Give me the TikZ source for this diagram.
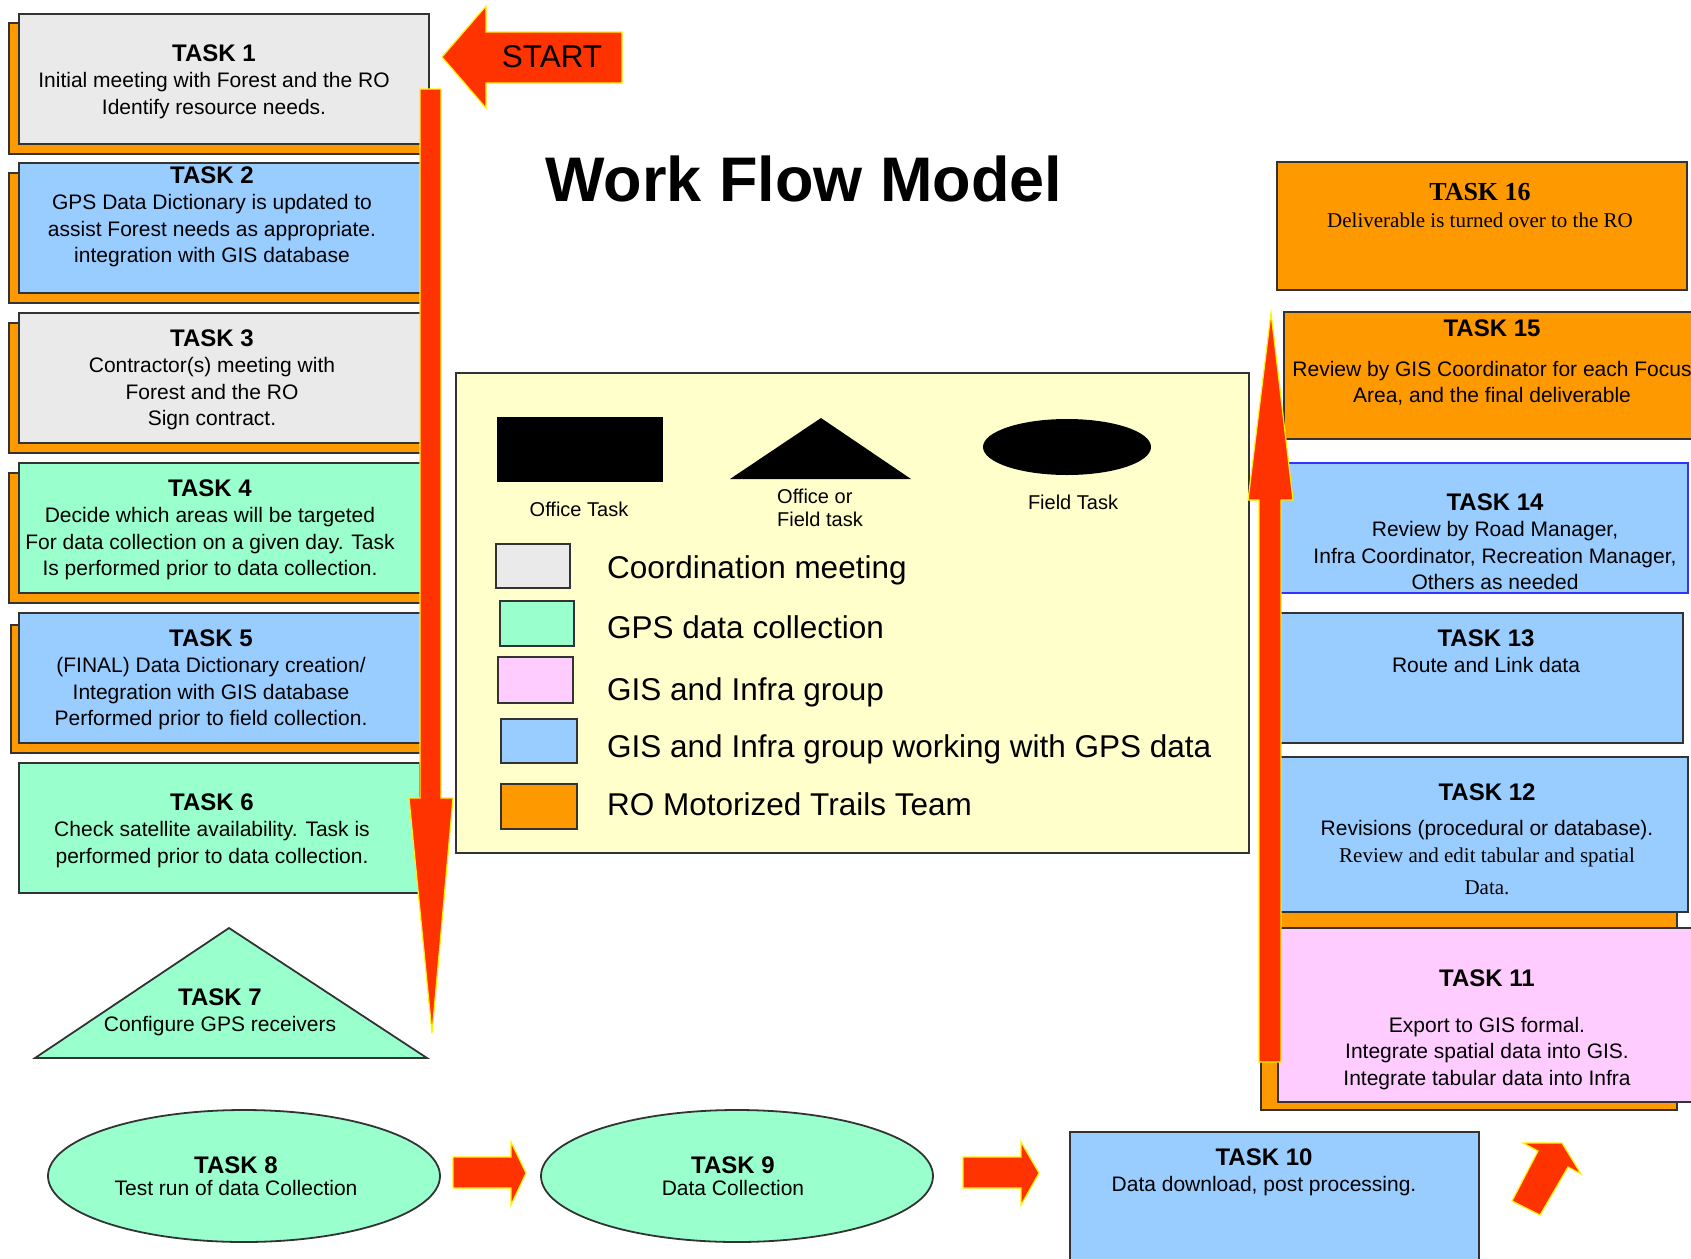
\documentclass[tikz,border=0pt]{standalone}
\usepackage{fontspec}
\setmainfont{Liberation Sans}
\newfontfamily\timesface{Liberation Serif}
\newcommand\taskhead[1]{{\fontsize{24}{26.5}\selectfont\bfseries TASK #1}}
\begin{document}
\begin{tikzpicture}[x=1pt, y=-1pt]
		\definecolor{meetgray}{HTML}{EAEAEA}
		\definecolor{gpsgreen}{HTML}{99FFCC}
		\definecolor{gisblue}{HTML}{99CCFF}
		\definecolor{gispink}{HTML}{FFCCFF}
		\definecolor{roorange}{HTML}{FF9900}
		\definecolor{legendyellow}{HTML}{FFFFCC}
		\definecolor{arrowred}{HTML}{FF3300}
		\definecolor{boxline}{HTML}{333333}
		\definecolor{blueline}{HTML}{3333FF}
		\tikzset{box/.style = {draw=boxline, line width=1.8pt},
			shadow/.style = {box, fill=roorange},
			bigarrow/.style = {fill=arrowred, draw=yellow, line width=1.2pt},
			tasktext/.style = {align=center, inner sep=0pt, anchor=north, font=\fontsize{21}{26.5}\selectfont},
			legendlabel/.style = {anchor=base west, inner sep=0pt, font=\fontsize{31.5}{36}\selectfont},
			smalllabel/.style = {inner sep=0pt, font=\fontsize{20}{23}\selectfont}}

		\useasboundingbox (0,0) rectangle (1691,1258);

		\node[inner sep=0pt, font=\fontsize{63}{70}\selectfont\bfseries] (title) at (804,179) {Work Flow Model};

		% legend
		\draw[box, fill=legendyellow] (456,373) rectangle (1249,853);
		\fill (497,417) rectangle (663,482);
		\fill (730,479) -- (821,418) -- (911,479) -- cycle;
		\fill (1067,447) ellipse [x radius=84, y radius=28];
		\node[smalllabel] (L_office) at (579,509) {Office Task};
		\node[smalllabel, align=left, anchor=north west] (L_both) at (777,489) {Office or\\Field task};
		\node[smalllabel] (L_field) at (1073,502) {Field Task};

		\draw[box, fill=meetgray] (496,544) rectangle (570,588);
		\draw[box, fill=gpsgreen] (500,601) rectangle (574,646);
		\draw[box, fill=gispink] (498,657) rectangle (573,703);
		\draw[box, fill=gisblue] (501,719) rectangle (577,763);
		\draw[box, fill=roorange] (501,784) rectangle (577,829);
		\node[legendlabel] (L_1) at (607,578) {Coordination meeting};
		\node[legendlabel] (L_2) at (607,638) {GPS data collection};
		\node[legendlabel] (L_3) at (607,700) {GIS and Infra group};
		\node[legendlabel] (L_4) at (607,757) {GIS and Infra group working with GPS data};
		\node[legendlabel] (L_5) at (607,815) {RO Motorized Trails Team};

		% left column
		\draw[shadow] (9,23) rectangle (425,154);
		\draw[box, fill=meetgray] (19,14) rectangle (429,144);
		\node[tasktext] (T_1) at (214,44.5) {\taskhead{1}\\Initial meeting with Forest and the RO\\Identify resource needs.};

		\draw[shadow] (9,173) rectangle (425,303);
		\draw[box, fill=gisblue] (19,163) rectangle (428,293);
		\node[tasktext] (T_2) at (212,166.5) {\taskhead{2}\\GPS Data Dictionary is updated to\\assist Forest needs as appropriate.\\integration with GIS database};

		\draw[shadow] (9,323) rectangle (425,453);
		\draw[box, fill=meetgray] (19,313) rectangle (428,443);
		\node[tasktext] (T_3) at (212,329.5) {\taskhead{3}\\Contractor(s) meeting with\\Forest and the RO\\Sign contract.};

		\draw[shadow] (9,473) rectangle (425,603);
		\draw[box, fill=gpsgreen] (19,463) rectangle (428,593);
		\node[tasktext] (T_4) at (210,479.5) {\taskhead{4}\\Decide which areas will be targeted\\For data collection on a given day. Task\\Is performed prior to data collection.};

		\draw[shadow] (11,625) rectangle (425,753);
		\draw[box, fill=gisblue] (19,613) rectangle (428,743);
		\node[tasktext] (T_5) at (211,629.5) {\taskhead{5}\\(FINAL) Data Dictionary creation/\\Integration with GIS database\\Performed prior to field collection.};

		\draw[box, fill=gpsgreen] (19,763) rectangle (420,893);
		\node[tasktext] (T_6) at (212,793.5) {\taskhead{6}\\Check satellite availability. Task is\\performed prior to data collection.};

		\draw[box, fill=gpsgreen] (35,1058) -- (229,928) -- (427,1058) -- cycle;
		\node[tasktext] (T_7) at (220,988.5) {\taskhead{7}\\Configure GPS receivers};

		% bottom row
		\draw[box, fill=gpsgreen] (244,1176) ellipse [x radius=196, y radius=66];
		\node[tasktext] (T_8) at (236,1156.5) {\taskhead{8}\\[-4pt]Test run of data Collection};
		\draw[box, fill=gpsgreen] (737,1176) ellipse [x radius=196, y radius=66];
		\node[tasktext] (T_9) at (733,1156.5) {\taskhead{9}\\[-4pt]Data Collection};
		\draw[box, fill=gisblue] (1070,1132) rectangle (1479,1270);
		\node[tasktext] (T_10) at (1264,1148.5) {\taskhead{10}\\Data download, post processing.};

		% right column
		\draw[box, fill=roorange] (1277,162) rectangle (1687,290);
		\node[tasktext] (T_16) at (1480,183.5) {{\timesface\fontsize{26}{26.5}\selectfont\bfseries TASK 16}\\{\timesface Deliverable is turned over to the RO}};

		\draw[box, fill=roorange] (1284,312) rectangle (1700,439);
		\node[tasktext] (T_15) at (1492,319.5) {\taskhead{15}\\[13.5pt]Review by GIS Coordinator for each Focus\\Area, and the final deliverable};

		\draw[box, draw=blueline, fill=gisblue] (1275,463) rectangle (1688,593);
		\node[tasktext] (T_14) at (1495,493.5) {\taskhead{14}\\Review by Road Manager,\\Infra Coordinator, Recreation Manager,\\Others as needed};

		\draw[box, fill=gisblue] (1275,613) rectangle (1683,743);
		\node[tasktext] (T_13) at (1486,629.5) {\taskhead{13}\\Route and Link data};

		\draw[shadow] (1261,905) rectangle (1677,1110);
		\draw[box, fill=gisblue] (1275,757) rectangle (1688,912);
		\node[tasktext] (T_12) at (1487,783.5) {\taskhead{12}\\[9pt]Revisions (procedural or database).\\{\timesface Review and edit tabular and spatial}\\[6pt]{\timesface Data.}};

		\draw[box, fill=gispink] (1278,928) rectangle (1700,1102);
		\node[tasktext] (T_11) at (1487,969.5) {\taskhead{11}\\[19.5pt]Export to GIS formal.\\Integrate spatial data into GIS.\\Integrate tabular data into Infra};

		% flow arrows
		\draw[bigarrow] (442,57) -- (486,6) -- (486,32) -- (622,32) -- (622,83) -- (486,83) -- (486,108) -- cycle;
		\node[inner sep=0pt, font=\fontsize{31.5}{36}\selectfont] (start) at (552,57) {START};

		\draw[bigarrow] (420,89) -- (441,89) -- (441,798) -- (453,798) -- (432,1033) -- (409,798) -- (420,798) -- cycle;
		\draw[bigarrow] (453,1157) -- (511,1157) -- (511,1142) -- (526,1173) -- (511,1205) -- (511,1188) -- (453,1188) -- cycle;
		\draw[bigarrow] (963,1157) -- (1021,1157) -- (1021,1142) -- (1039,1173) -- (1021,1205) -- (1021,1188) -- (963,1188) -- cycle;
		\draw[bigarrow] (1523,1143) -- (1562,1143) -- (1581,1174) -- (1568,1167) -- (1540,1215) -- (1512,1201) -- (1538,1151) -- cycle;
		\draw[bigarrow] (1259,1062) -- (1259,500) -- (1248,500) -- (1271,313) -- (1293,500) -- (1281,500) -- (1281,1062) -- cycle;

	\end{tikzpicture}
\end{document}
